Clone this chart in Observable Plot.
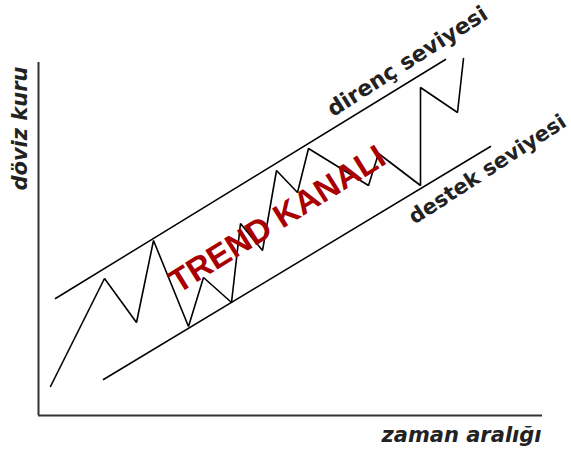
<!DOCTYPE html>
<html>
<head>
<meta charset="utf-8">
<script src="https://cdn.jsdelivr.net/npm/d3@7"></script>
<script src="https://cdn.jsdelivr.net/npm/@observablehq/plot@0.6"></script>
<style>
  html, body { margin: 0; padding: 0; background: #fff; }
  #chart svg { display: block; }
</style>
</head>
<body>
<div id="chart"></div>
<script>
// Price zigzag (time index, exchange rate) in chart units
const timeIdx = [12, 66, 98, 115, 150, 165, 193, 202, 224, 238, 259, 270, 330, 340, 382, 382, 419, 425];
const rate    = [29, 137, 93, 175, 89, 138, 113, 192, 165, 245, 223, 267, 230, 262, 230, 328, 303, 357];

// Channel lines
const resistanceX = [17, 407];
const resistanceY = [117, 356];
const supportX = [65, 452];
const supportY = [36, 269];

// Labels
const yLabel = "döviz kuru";
const xLabel = "zaman aralığı";
const resistanceLabel = "direnç seviyesi";
const supportLabel = "destek seviyesi";
const channelLabel = "TREND KANALI";

const priceData = timeIdx.map((t, i) => ({t, v: rate[i]}));
const resData = resistanceX.map((t, i) => ({t, v: resistanceY[i]}));
const supData = supportX.map((t, i) => ({t, v: supportY[i]}));

const chart = Plot.plot({
  width: 571,
  height: 456,
  marginLeft: 38,
  marginRight: 29,
  marginTop: 62,
  marginBottom: 41,
  x: {domain: [0, 504], axis: null},
  y: {domain: [0, 353], axis: null},
  style: {background: "#fff", overflow: "visible"},
  marks: [
    Plot.ruleX([0], {y1: 0, y2: 353, stroke: "#333", strokeWidth: 2}),
    Plot.ruleY([0], {x1: 0, x2: 504, stroke: "#333", strokeWidth: 2}),
    Plot.line(resData, {x: "t", y: "v", stroke: "#000", strokeWidth: 1.5}),
    Plot.line(supData, {x: "t", y: "v", stroke: "#000", strokeWidth: 1.5}),
    Plot.line(priceData, {x: "t", y: "v", stroke: "#000", strokeWidth: 1.6, strokeLinejoin: "miter"}),
    Plot.text([channelLabel], {x: 239, y: 196, text: d => d, rotate: -32, fill: "#a80000",
      fontSize: 33, fontWeight: "bold", fontFamily: "Liberation Sans, Arial, sans-serif",
      textAnchor: "middle", lineAnchor: "middle"}),
    Plot.text([resistanceLabel], {x: 369, y: 354, text: d => d, rotate: -32.5, fill: "#222",
      fontSize: 22, fontWeight: "bold", fontFamily: "DejaVu Sans, sans-serif",
      textAnchor: "middle", lineAnchor: "middle"}),
    Plot.text([supportLabel], {x: 449, y: 246, text: d => d, rotate: -33, fill: "#222",
      fontSize: 21, fontWeight: "bold", fontFamily: "DejaVu Sans, sans-serif",
      textAnchor: "middle", lineAnchor: "middle"}),
    Plot.text([yLabel], {x: -18, y: 287, text: d => d, rotate: -90, fill: "#222",
      fontSize: 21, fontWeight: "bold", fontStyle: "italic", fontFamily: "DejaVu Sans, sans-serif",
      textAnchor: "middle", lineAnchor: "middle"}),
    Plot.text([xLabel], {x: 423, y: -20, text: d => d, fill: "#222",
      fontSize: 21, fontWeight: "bold", fontStyle: "italic", fontFamily: "DejaVu Sans, sans-serif",
      textAnchor: "middle", lineAnchor: "middle"})
  ]
});
document.getElementById("chart").appendChild(chart);
</script>
</body>
</html>
